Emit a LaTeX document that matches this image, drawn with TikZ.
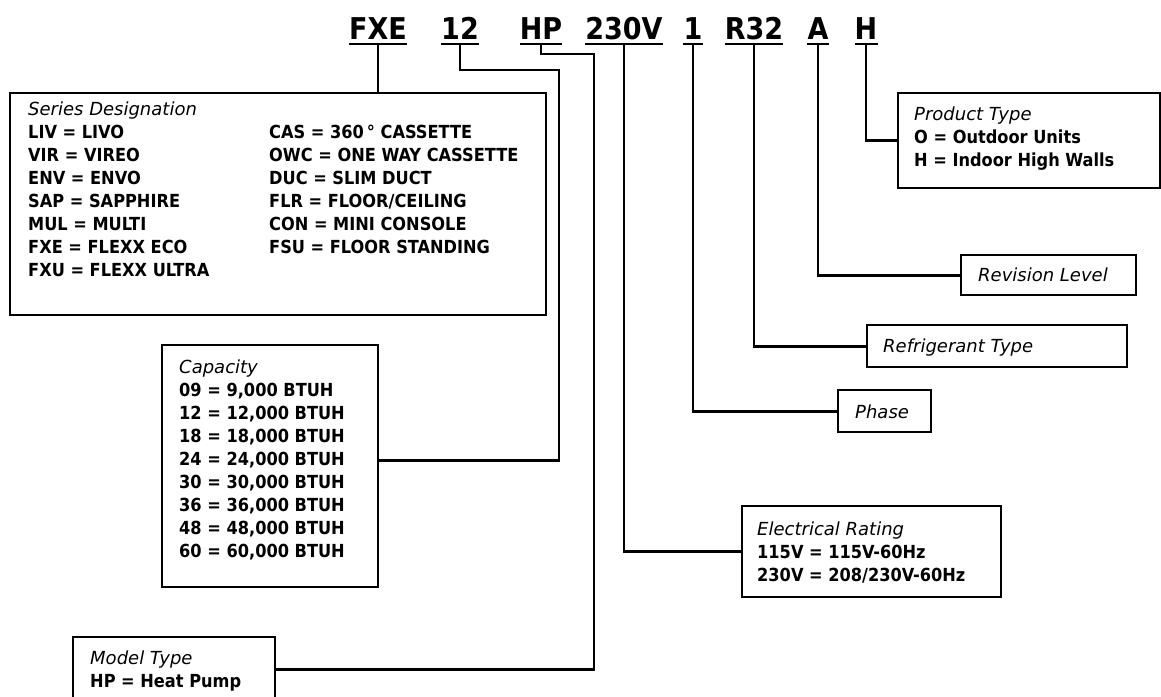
\documentclass[tikz,border=0pt]{standalone}
\usepackage{fontspec}
\newfontfamily\codefont{DejaVu Sans Condensed Bold}
\newfontfamily\headfont{DejaVu Sans Oblique}

\tikzset{
  box/.style={draw, line width=2.4pt, inner sep=0pt, anchor=north west},
  wire/.style={line width=2.8pt},
  code/.style={font=\codefont\fontsize{30}{36}\selectfont, inner sep=0pt, anchor=base},
  entry/.style={font=\codefont\fontsize{18}{22}\selectfont, inner sep=0pt, anchor=base west},
  head/.style={font=\headfont\fontsize{18}{22}\selectfont, inner sep=0pt, anchor=base west},
}

\begin{document}
\begin{tikzpicture}[x=1pt, y=-1pt]
\useasboundingbox (0,0) rectangle (1161,696);
\clip (0,0) rectangle (1161,696);
\fill[white] (0,0) rectangle (1161,696);

\path (378,39) node[code] (c-fxe) {FXE}
      (460,39) node[code] (c-12) {12}
      (541,39) node[code] (c-hp) {HP}
      (624,39) node[code] (c-230) {230V}
      (693,39) node[code] (c-1) {1}
      (754,39) node[code] (c-r32) {R32}
      (818,39) node[code] (c-a) {A}
      (866,39) node[code] (c-h) {H};

\draw[wire] ([yshift=-5pt]c-fxe.base west) -- ([yshift=-5pt]c-fxe.base east);
\draw[wire] ([yshift=-5pt]c-12.base west) -- ([yshift=-5pt]c-12.base east);
\draw[wire] ([yshift=-5pt]c-hp.base west) -- ([yshift=-5pt]c-hp.base east);
\draw[wire] ([yshift=-5pt]c-230.base west) -- ([yshift=-5pt]c-230.base east);
\draw[wire] ([yshift=-5pt]c-1.base west) -- ([yshift=-5pt]c-1.base east);
\draw[wire] ([yshift=-5pt]c-r32.base west) -- ([yshift=-5pt]c-r32.base east);
\draw[wire] ([yshift=-5pt]c-a.base west) -- ([yshift=-5pt]c-a.base east);
\draw[wire] ([yshift=-5pt]c-h.base west) -- ([yshift=-5pt]c-h.base east);

\path (9,92) node[box, minimum width=536pt, minimum height=222pt] (ser) {}
      (161,344) node[box, minimum width=216pt, minimum height=242pt] (cap) {}
      (72,636) node[box, minimum width=202pt, minimum height=64pt] (mt) {}
      (741,505) node[box, minimum width=259pt, minimum height=91pt] (el) {}
      (837,389) node[box, minimum width=93pt, minimum height=42pt] (ph) {}
      (866,324) node[box, minimum width=260pt, minimum height=42pt] (rf) {}
      (960,254) node[box, minimum width=175pt, minimum height=40pt] (rv) {}
      (897,92) node[box, minimum width=262pt, minimum height=95pt] (pt) {};

\draw[wire] ([yshift=-5pt]c-fxe.base) -- (c-fxe.base |- ser.north);
\draw[wire] ([yshift=-5pt]c-12.base) |- (559,70) |- ([yshift=6pt]cap.east);
\draw[wire] ([yshift=-5pt]c-hp.base) |- (594,54) |- (mt.east);
\draw[wire] ([yshift=-5pt]c-230.base) |- (el.west);
\draw[wire] ([yshift=-5pt]c-1.base) |- (ph.west);
\draw[wire] ([yshift=-5pt]c-r32.base) |- (rf.west);
\draw[wire] ([yshift=-5pt]c-a.base) |- (rv.west);
\draw[wire] ([yshift=-5pt]c-h.base) |- (pt.west);

\path (28,115) node[head] (ser-t) {Series Designation}
      (28,138) node[entry] (liv) {LIV = LIVO}
      (28,161) node[entry] (vir) {VIR = VIREO}
      (28,184) node[entry] (env) {ENV = ENVO}
      (28,207) node[entry] (sap) {SAP = SAPPHIRE}
      (28,230) node[entry] (mul) {MUL = MULTI}
      (28,253) node[entry] (fxe) {FXE = FLEXX ECO}
      (28,276) node[entry] (fxu) {FXU = FLEXX ULTRA}
      (269,138) node[entry] (cas) {CAS = 360\,° CASSETTE}
      (269,161) node[entry] (owc) {OWC = ONE WAY CASSETTE}
      (269,184) node[entry] (duc) {DUC = SLIM DUCT}
      (269,207) node[entry] (flr) {FLR = FLOOR/CEILING}
      (269,230) node[entry] (con) {CON = MINI CONSOLE}
      (269,253) node[entry] (fsu) {FSU = FLOOR STANDING};

\path (179,373) node[head] (cap-t) {Capacity}
      (179,396) node[entry] (b09) {09 = 9,000 BTUH}
      (179,419) node[entry] (b12) {12 = 12,000 BTUH}
      (179,442) node[entry] (b18) {18 = 18,000 BTUH}
      (179,465) node[entry] (b24) {24 = 24,000 BTUH}
      (179,488) node[entry] (b30) {30 = 30,000 BTUH}
      (179,511) node[entry] (b36) {36 = 36,000 BTUH}
      (179,534) node[entry] (b48) {48 = 48,000 BTUH}
      (179,557) node[entry] (b60) {60 = 60,000 BTUH};

\path (90,664) node[head] (mt-t) {Model Type}
      (90,687) node[entry] (mt-hp) {HP = Heat Pump}
      (757,535) node[head] (el-t) {Electrical Rating}
      (757,558) node[entry] (el-115) {115V = 115V-60Hz}
      (757,581) node[entry] (el-230) {230V = 208/230V-60Hz}
      (855,418) node[head] (ph-t) {Phase}
      (883,352) node[head] (rf-t) {Refrigerant Type}
      (978,281) node[head] (rv-t) {Revision Level}
      (914,120) node[head] (pt-t) {Product Type}
      (914,143) node[entry] (pt-o) {O = Outdoor Units}
      (914,166) node[entry] (pt-h) {H = Indoor High Walls};
\end{tikzpicture}
\end{document}
